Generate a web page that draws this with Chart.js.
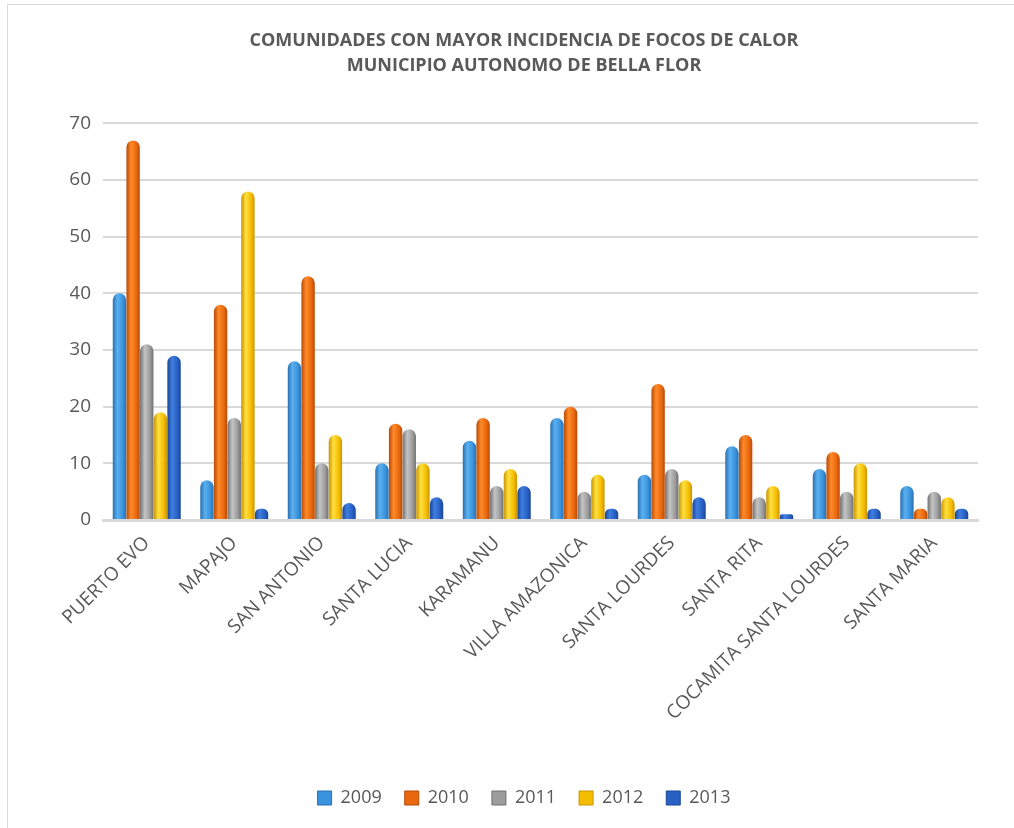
<!DOCTYPE html>
<html>
<head>
<meta charset="utf-8">
<script src="https://cdn.jsdelivr.net/npm/chart.js@4"></script>
<style>
  html, body { margin: 0; padding: 0; background: #fff; }
  #wrap { position: relative; width: 1014px; height: 828px; }
  #frame { position: absolute; left: 7px; top: 4px; width: 1030px; height: 850px; border: 1px solid #d9d9d9; pointer-events: none; }
</style>
</head>
<body>
<div id="wrap">
  <canvas id="chart" width="1014" height="828"></canvas>
  <div id="frame"></div>
</div>
<script>
// Datos
const comunidades = ['PUERTO EVO', 'MAPAJO', 'SAN ANTONIO', 'SANTA LUCIA', 'KARAMANU',
  'VILLA AMAZONICA', 'SANTA LOURDES', 'SANTA RITA', 'COCAMITA SANTA LOURDES', 'SANTA MARIA'];
const anios = ['2009', '2010', '2011', '2012', '2013'];
const focos2009 = [40, 7, 28, 10, 14, 18, 8, 13, 9, 6];
const focos2010 = [67, 38, 43, 17, 18, 20, 24, 15, 12, 2];
const focos2011 = [31, 18, 10, 16, 6, 5, 9, 4, 5, 5];
const focos2012 = [19, 58, 15, 10, 9, 8, 7, 6, 10, 4];
const focos2013 = [29, 2, 3, 4, 6, 2, 4, 1, 2, 2];
const yTicks = [0, 10, 20, 30, 40, 50, 60, 70];

// colores: [oscuro, claro, base]
const colores = [
  ['#2a6fb0', '#5ab0f0', '#3a93dc'],
  ['#b84a05', '#ff8a2a', '#e8680e'],
  ['#707070', '#c4c4c4', '#9c9c9c'],
  ['#c99400', '#ffe040', '#f5bd00'],
  ['#1a4596', '#3f7ee0', '#2860c4']
];
const series = [focos2009, focos2010, focos2011, focos2012, focos2013];

const textColor = '#595959';

// degradado horizontal para simular el cilindro
const gradientePlugin = {
  id: 'gradiente',
  beforeDatasetsDraw(chart) {
    const ctx = chart.ctx;
    chart.data.datasets.forEach((ds, di) => {
      const meta = chart.getDatasetMeta(di);
      const c = colores[di];
      meta.data.forEach(el => {
        const { x, width } = el.getProps(['x', 'width'], true);
        const g = ctx.createLinearGradient(x - width / 2, 0, x + width / 2, 0);
        g.addColorStop(0, c[0]);
        g.addColorStop(0.35, c[1]);
        g.addColorStop(0.75, c[2]);
        g.addColorStop(1, c[0]);
        el.options = Object.assign({}, el.options, { backgroundColor: g });
      });
    });
  }
};

const datasets = series.map((data, i) => ({
  label: anios[i],
  data: data,
  backgroundColor: colores[i][2],
  borderWidth: 0,
  borderRadius: { topLeft: 7, topRight: 7, bottomLeft: 0, bottomRight: 0 },
  borderSkipped: 'start',
  categoryPercentage: 0.78,
  barPercentage: 0.98
}));

new Chart(document.getElementById('chart'), {
  type: 'bar',
  data: { labels: comunidades, datasets: datasets },
  options: {
    responsive: false,
    animation: false,
    devicePixelRatio: 1,
    layout: { padding: { left: 70, right: 36, top: 8, bottom: 11 } },
    plugins: {
      title: {
        display: true,
        text: ['COMUNIDADES CON MAYOR INCIDENCIA DE FOCOS DE CALOR', 'MUNICIPIO AUTONOMO DE BELLA FLOR'],
        color: textColor,
        font: { family: 'Open Sans', size: 18, weight: 'bold', lineHeight: 1.4 },
        padding: { top: 20, bottom: 45 }
      },
      legend: {
        position: 'bottom',
        labels: {
          color: textColor,
          font: { family: 'Open Sans', size: 18 },
          boxWidth: 14,
          boxHeight: 14,
          padding: 23,
          generateLabels(chart) {
            return chart.data.datasets.map((ds, i) => ({
              text: ds.label,
              fillStyle: colores[i][2],
              strokeStyle: colores[i][0],
              lineWidth: 1,
              fontColor: textColor,
              datasetIndex: i,
              hidden: false
            }));
          }
        }
      },
      tooltip: { enabled: false }
    },
    scales: {
      x: {
        grid: { display: false },
        border: { display: true, color: '#d9d9d9', width: 3 },
        afterFit(axis) { axis.height = 246; },
        ticks: {
          color: textColor,
          font: { family: 'Open Sans', size: 19 },
          maxRotation: 45,
          minRotation: 45,
          autoSkip: false,
          padding: 4
        }
      },
      y: {
        min: 0,
        max: 70,
        afterBuildTicks(axis) {
          axis.ticks = yTicks.map(v => ({ value: v }));
        },
        afterFit(axis) { axis.width = 33; },
        grid: { color: '#d9d9d9', lineWidth: 2, drawTicks: false },
        border: { display: false },
        ticks: {
          color: textColor,
          font: { family: 'Open Sans', size: 19 },
          padding: 12
        }
      }
    }
  },
  plugins: [gradientePlugin]
});
</script>
</body>
</html>
